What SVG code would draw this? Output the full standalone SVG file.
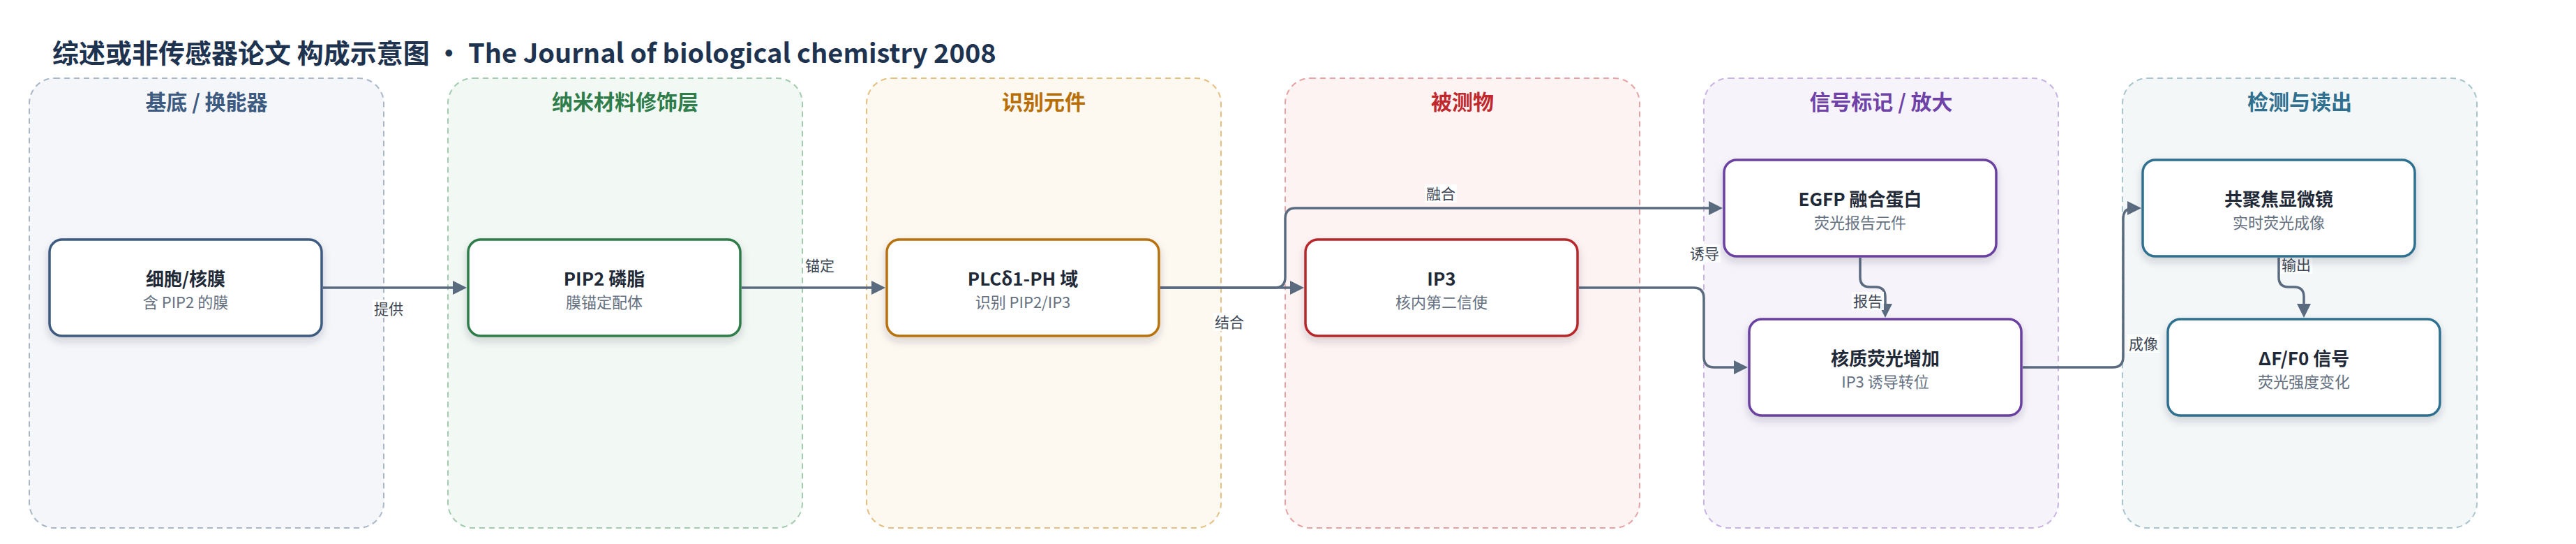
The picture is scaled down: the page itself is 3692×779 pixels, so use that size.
<svg xmlns="http://www.w3.org/2000/svg" width="3692" height="779" viewBox="0 0 3692 779">
<defs>
<filter id="sh" x="-10%" y="-20%" width="120%" height="150%">
<feDropShadow dx="0" dy="6" stdDeviation="6" flood-color="#1f2937" flood-opacity="0.18"/>
</filter>
<marker id="ah" markerUnits="userSpaceOnUse" markerWidth="20" markerHeight="20" refX="16" refY="10" orient="auto">
<path d="M0,0 L20,10 L0,20 z" fill="#5a6b80"/>
</marker>
<style>
text{font-family:"Noto Sans CJK SC","Noto Sans",sans-serif}
.ttl{font-size:38px;font-weight:700;fill:#1e3350}
.lane{stroke-width:2;stroke-dasharray:8 6}
.lt{font-size:30px;font-weight:700;text-anchor:middle}
.nd{fill:#fff;stroke-width:3.5;filter:url(#sh)}
.nt{font-size:26px;font-weight:700;fill:#1f2937;text-anchor:middle}
.ns{font-size:22px;fill:#64707f;text-anchor:middle}
.cn{fill:none;stroke:#5a6b80;stroke-width:3.5;marker-end:url(#ah)}
.lb{font-size:21px;fill:#3c4654;text-anchor:middle}
.lbg{fill:#fff;fill-opacity:0.9}
</style>
</defs>
<rect width="3692" height="779" fill="#fff"/>
<text class="ttl" x="75" y="90">综述或非传感器论文 构成示意图 • The Journal of biological chemistry 2008</text>

<g id="lanes">
<g id="lane1"><rect class="lane" x="42" y="112" width="508" height="644" rx="36" fill="#f4f6fa" stroke="#a9b7ca"/><text class="lt" x="296" y="157" fill="#3d5a80">基底 / 换能器</text></g>
<g id="lane2"><rect class="lane" x="642" y="112" width="508" height="644" rx="36" fill="#f2f8f4" stroke="#a3ccae"/><text class="lt" x="896" y="157" fill="#2e7d4a">纳米材料修饰层</text></g>
<g id="lane3"><rect class="lane" x="1242" y="112" width="508" height="644" rx="36" fill="#fdf8f0" stroke="#e4bf80"/><text class="lt" x="1496" y="157" fill="#b86e06">识别元件</text></g>
<g id="lane4"><rect class="lane" x="1842" y="112" width="508" height="644" rx="36" fill="#fdf3f2" stroke="#e6a2a2"/><text class="lt" x="2096" y="157" fill="#c0282d">被测物</text></g>
<g id="lane5"><rect class="lane" x="2442" y="112" width="508" height="644" rx="36" fill="#f6f3fb" stroke="#c8b3e2"/><text class="lt" x="2696" y="157" fill="#6f42a8">信号标记 / 放大</text></g>
<g id="lane6"><rect class="lane" x="3042" y="112" width="508" height="644" rx="36" fill="#f3f7f8" stroke="#a8c4ce"/><text class="lt" x="3296" y="157" fill="#2f6f8f">检测与读出</text></g>
</g>

<g id="connectors">
<path class="cn" d="M463,412 H665"/>
<path class="cn" d="M1063,412 H1265"/>
<path class="cn" d="M1663,412 H1865"/>
<path class="cn" d="M1663,412 H1827 Q1842,412 1842,397 V313 Q1842,298 1857,298 H2465"/>
<path class="cn" d="M2263,412 H2427 Q2442,412 2442,427 V511 Q2442,526 2457,526 H2501"/>
<path class="cn" d="M2666,369 V397 Q2666,411 2680,411 H2688 Q2702,411 2702,425 V451"/>
<path class="cn" d="M2899,526 H3028 Q3043,526 3043,511 V313 Q3043,298 3058,298 H3065"/>
<path class="cn" d="M3266,369 V397 Q3266,411 3280,411 H3288 Q3302,411 3302,425 V451"/>
<g id="labels">
<rect class="lbg" x="534" y="429" width="46" height="26"/><text class="lb" x="557" y="450">提供</text>
<rect class="lbg" x="1152" y="367" width="46" height="26"/><text class="lb" x="1175" y="388">锚定</text>
<rect class="lbg" x="1739" y="448" width="46" height="26"/><text class="lb" x="1762" y="469">结合</text>
<rect class="lbg" x="2042" y="264" width="46" height="26"/><text class="lb" x="2065" y="285">融合</text>
<rect class="lbg" x="2420" y="350" width="46" height="26"/><text class="lb" x="2443" y="371">诱导</text>
<rect class="lbg" x="2654" y="418" width="46" height="26"/><text class="lb" x="2677" y="439">报告</text>
<rect class="lbg" x="3049" y="479" width="46" height="26"/><text class="lb" x="3072" y="500">成像</text>
<rect class="lbg" x="3268" y="366" width="46" height="26"/><text class="lb" x="3291" y="387">输出</text>
</g>
</g>

<g id="n1"><rect class="nd" x="71" y="343" width="390" height="138" rx="18" stroke="#3d5a80"/><text class="nt" x="266" y="409">细胞/核膜</text><text class="ns" x="266" y="441">含 PIP2 的膜</text></g>
<g id="n2"><rect class="nd" x="671" y="343" width="390" height="138" rx="18" stroke="#2e7d4a"/><text class="nt" x="866" y="409">PIP2 磷脂</text><text class="ns" x="866" y="441">膜锚定配体</text></g>
<g id="n3"><rect class="nd" x="1271" y="343" width="390" height="138" rx="18" stroke="#b8720a"/><text class="nt" x="1466" y="409">PLCδ1-PH 域</text><text class="ns" x="1466" y="441">识别 PIP2/IP3</text></g>
<g id="n4"><rect class="nd" x="1871" y="343" width="390" height="138" rx="18" stroke="#b8282a"/><text class="nt" x="2066" y="409">IP3</text><text class="ns" x="2066" y="441">核内第二信使</text></g>
<g id="n5"><rect class="nd" x="2471" y="229" width="390" height="138" rx="18" stroke="#6a3fa0"/><text class="nt" x="2666" y="295">EGFP 融合蛋白</text><text class="ns" x="2666" y="327">荧光报告元件</text></g>
<g id="n6"><rect class="nd" x="2507" y="457" width="390" height="138" rx="18" stroke="#6a3fa0"/><text class="nt" x="2702" y="523">核质荧光增加</text><text class="ns" x="2702" y="555">IP3 诱导转位</text></g>
<g id="n7"><rect class="nd" x="3071" y="229" width="390" height="138" rx="18" stroke="#2f6f8f"/><text class="nt" x="3266" y="295">共聚焦显微镜</text><text class="ns" x="3266" y="327">实时荧光成像</text></g>
<g id="n8"><rect class="nd" x="3107" y="457" width="390" height="138" rx="18" stroke="#2f6f8f"/><text class="nt" x="3302" y="523">ΔF/F0 信号</text><text class="ns" x="3302" y="555">荧光强度变化</text></g>
</svg>
